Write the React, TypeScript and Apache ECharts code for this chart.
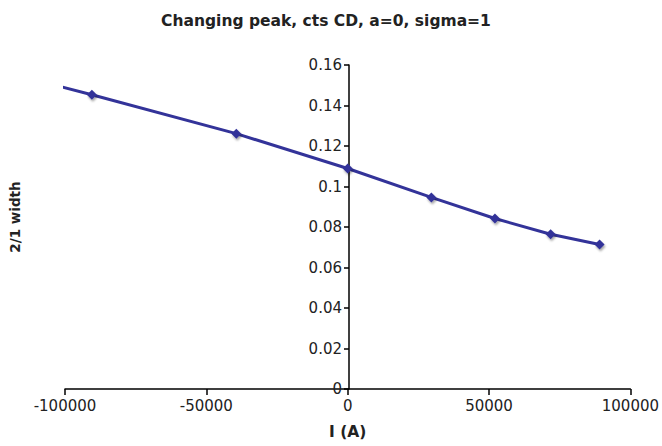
import React, { useEffect, useRef } from "react";
import * as echarts from "echarts";

const currentA: number[] = [-101800, -90500, -39400, 0, 29600, 52100, 71800, 89100];
const widthRatio: number[] = [0.1494, 0.1453, 0.1261, 0.1089, 0.0946, 0.0842, 0.0764, 0.0714];
const markerShown: boolean[] = [false, true, true, true, true, true, true, true];

const titleText = "Changing peak, cts CD, a=0, sigma=1";
const xName = "I (A)";
const yName = "2/1 width";

const X_MIN = -100000;
const X_MAX = 100000;

export default function App() {
  const ref = useRef<HTMLDivElement>(null);
  useEffect(() => {
    if (!ref.current) return;
    const chart = echarts.init(ref.current, undefined, { renderer: "svg" });
    const font = "DejaVu Sans, Verdana, sans-serif";
    const gridLeft = 65;
    const gridRight = 29;
    const plotW = 662 - gridLeft - gridRight;
    const yAxisOffset = -((0 - X_MIN) / (X_MAX - X_MIN)) * plotW;
    const data = currentA.map((x, i) =>
      markerShown[i] ? [x, widthRatio[i]] : { value: [x, widthRatio[i]], symbol: "none" }
    );
    chart.setOption({
      animation: false,
      backgroundColor: "#ffffff",
      title: {
        text: titleText,
        left: 321,
        textAlign: "center",
        top: 8,
        textStyle: { fontFamily: font, fontSize: 15.5, fontWeight: "bold", color: "#222" },
      },
      grid: { left: gridLeft, right: gridRight, top: 65, bottom: 57, containLabel: false },
      xAxis: {
        type: "value",
        min: X_MIN,
        max: X_MAX,
        interval: 50000,
        name: xName,
        nameLocation: "middle",
        nameGap: 35,
        nameTextStyle: { fontFamily: font, fontSize: 15.5, fontWeight: "bold", color: "#222" },
        axisLine: { onZero: false, lineStyle: { color: "#000", width: 1.5 } },
        axisTick: { show: true, inside: false, length: 6, lineStyle: { color: "#000", width: 1.5 } },
        axisLabel: {
          fontFamily: font,
          fontSize: 15,
          color: "#222",
          margin: 9,
          formatter: (v: number) => String(v),
        },
        splitLine: { show: false },
      },
      yAxis: {
        type: "value",
        min: 0,
        max: 0.16,
        interval: 0.02,
        offset: yAxisOffset,
        axisLine: { show: true, onZero: false, lineStyle: { color: "#000", width: 1.5 } },
        axisTick: { show: true, length: 5, lineStyle: { color: "#000", width: 1.5 } },
        axisLabel: {
          fontFamily: font,
          fontSize: 15,
          color: "#222",
          margin: 7,
          formatter: (v: number) => String(parseFloat(v.toFixed(4))),
        },
        splitLine: { show: false },
      },
      graphic: [
        {
          type: "text",
          x: 15,
          y: 217,
          rotation: Math.PI / 2,
          style: {
            text: yName,
            fontFamily: font,
            fontSize: 13.5,
            fontWeight: "bold",
            fill: "#222",
            align: "center",
            verticalAlign: "middle",
          },
        },
      ],
      series: [
        {
          type: "line",
          data,
          clip: false,
          symbol: "diamond",
          symbolSize: 10,
          lineStyle: { color: "#333399", width: 3 },
          itemStyle: {
            color: "#333399",
            shadowColor: "rgba(0,0,0,0.35)",
            shadowBlur: 2,
            shadowOffsetX: 1,
            shadowOffsetY: 2,
          },
        },
      ],
    });
    return () => chart.dispose();
  }, []);
  return <div ref={ref} style={{ width: 662, height: 446, position: "absolute", left: 0, top: 0 }} />;
}
